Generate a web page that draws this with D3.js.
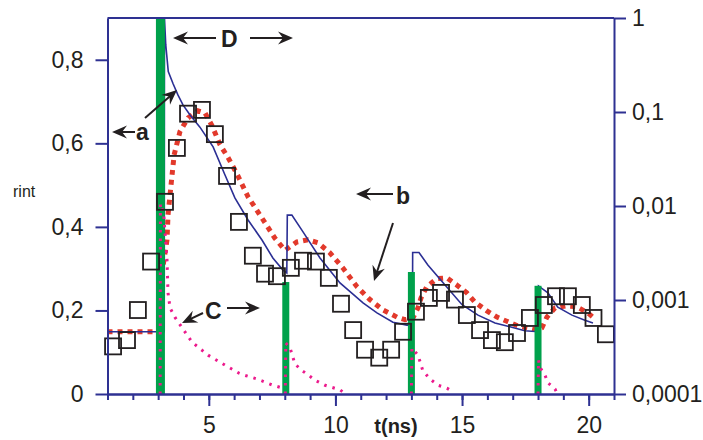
<!DOCTYPE html>
<html>
<head>
<meta charset="utf-8">
<script src="https://cdn.jsdelivr.net/npm/d3@7"></script>
<style>
body { margin: 0; background: #fff; }
svg text { font-family: "Liberation Sans", Arial, Helvetica, sans-serif; fill: #231f20; }
</style>
</head>
<body>
<div id="chart"></div>
<script>
// measured points (t in ns)
var sqX = [1.22, 1.77, 2.20, 2.72, 3.27, 3.74, 4.18, 4.73, 5.24, 5.72, 6.19, 6.74, 7.22, 7.69, 8.24, 8.72, 9.23, 9.74, 10.22, 10.70,
           11.17, 11.73, 12.20, 12.67, 13.18, 13.69, 14.17, 14.72, 15.19, 15.71, 16.18, 16.69, 17.17, 17.68, 18.23, 18.71, 19.18, 19.73, 20.19, 20.68];
var sqY = [0.114, 0.129, 0.201, 0.317, 0.460, 0.589, 0.671, 0.680, 0.622, 0.522, 0.412, 0.331, 0.288, 0.282, 0.302, 0.319, 0.317, 0.278, 0.216, 0.153,
           0.106, 0.087, 0.106, 0.149, 0.197, 0.230, 0.242, 0.226, 0.189, 0.153, 0.129, 0.124, 0.146, 0.182, 0.213, 0.234, 0.234, 0.213, 0.182, 0.143];

// model curve b (red dotted), left axis
var redX = [1.0, 3.07, 3.12, 3.23, 3.35, 3.39, 3.51, 3.63, 3.86, 4.18, 4.57, 4.85, 5.13, 5.44, 5.76, 6.11, 6.55, 7.10, 7.61, 8.01,
            8.48, 8.91, 9.31, 9.78, 10.29, 10.85, 11.36, 11.88, 12.43, 12.75, 13.06, 13.26, 13.38, 13.61, 14.0, 14.40, 14.79, 15.19,
            15.51, 15.98, 16.38, 16.77, 17.21, 17.60, 17.99, 18.15, 18.35, 18.67, 19.10, 19.53, 19.97, 20.17];
var redY = [0.149, 0.149, 0.278, 0.321, 0.369, 0.429, 0.501, 0.572, 0.628, 0.661, 0.678, 0.673, 0.642, 0.597, 0.566, 0.527, 0.472, 0.421, 0.373, 0.344,
            0.364, 0.369, 0.362, 0.338, 0.302, 0.257, 0.226, 0.201, 0.184, 0.178, 0.182, 0.206, 0.230, 0.257, 0.276, 0.278, 0.261, 0.242,
            0.220, 0.199, 0.184, 0.174, 0.163, 0.158, 0.153, 0.158, 0.184, 0.206, 0.211, 0.209, 0.194, 0.184];

// curve D (blue), right log axis
var blueX = [1.0, 3.24, 3.25, 3.3, 3.4, 3.59, 3.78, 3.98, 4.26, 4.65, 5.17, 5.64, 6.03, 6.55, 7.10, 7.53, 7.93, 8.08, 8.10, 8.28,
             8.72, 9.39, 10.18, 11.09, 11.64, 12.27, 12.82, 13.04, 13.05, 13.30, 13.65, 14.32, 15.0, 15.63, 16.30, 16.89, 17.48, 18.0,
             18.02, 18.39, 18.78, 19.34, 19.85, 20.17];
var blueY = [4.6e-4, 4.6e-4, 1, 0.52, 0.27, 0.2, 0.152, 0.119, 0.093, 0.069, 0.0425, 0.0214, 0.0122, 0.0071, 0.00435, 0.0028, 0.00208, 0.00194, 0.0080, 0.0080,
             0.0053, 0.0028, 0.00152, 0.00093, 0.00073, 0.00058, 0.00054, 0.00054, 0.0032, 0.0032, 0.00236, 0.00145, 0.00089, 0.00069, 0.00057, 0.00052, 0.00047, 0.00046,
             0.00141, 0.00119, 0.00084, 0.00069, 0.00061, 0.00057];

// curve C (pink dotted), null = gap
var pinkX = [3.08, 3.09, 3.22, 3.35, 3.39, 3.47, 3.66, 3.86, 4.34, 4.97, 5.64, 6.19, 6.35, 6.90, 7.53, 7.93, null,
             8.02, 8.04, 8.21, 8.40, 8.68, 8.92, 9.19, 9.59, 10.18, 10.35, null,
             13.0, 13.02, 13.26, 13.45, 13.73, 14.05, 14.40, 14.68, null,
             18.0, 18.02, 18.07, 18.27, 18.39, 18.67, 18.75];
var pinkY = [0, 0.456, 0.429, 0.321, 0.242, 0.206, 0.184, 0.166, 0.124, 0.093, 0.069, 0.050, 0.046, 0.036, 0.021, 0.014, null,
             0, 0.122, 0.110, 0.072, 0.056, 0.046, 0.033, 0.021, 0.010, 0.002, null,
             0, 0.110, 0.093, 0.056, 0.036, 0.021, 0.014, 0.004, null,
             0, 0.081, 0.064, 0.046, 0.027, 0.012, 0.002];

// excitation pulses (a)
var pulseX = [3.09, 8.04, 13.0, 18.0];
var pulseH = [0.9, 0.268, 0.292, 0.259];

var xTicks = [5, 10, 15, 20];
var yLeftTicks = [0, 0.2, 0.4, 0.6, 0.8];
var yLeftLabels = ["0", "0,2", "0,4", "0,6", "0,8"];
var yRightTicks = [1e-4, 1e-3, 1e-2, 1e-1, 1];
var yRightLabels = ["0,0001", "0,001", "0,01", "0,1", "1"];

var w = 703, h = 440;
var axisColor = "#2e3192";

var svg = d3.select("#chart").append("svg")
            .attr("width", w)
            .attr("height", h);

var x = d3.scaleLinear().domain([1, 21]).range([107.5, 614]);
var yL = d3.scaleLinear().domain([0, 0.9]).range([394, 18]);
var yR = d3.scaleLog().domain([1e-4, 1]).range([394, 18]);

var zip = function(a, b) { return a.map(function(v, i) { return [v, b[i]]; }); };

// red model line
svg.append("path")
   .datum(zip(redX, redY))
   .attr("fill", "none")
   .attr("stroke", "#e2392b")
   .attr("stroke-width", 5)
   .attr("stroke-dasharray", "5,5")
   .attr("d", d3.line().x(function(d) { return x(d[0]); }).y(function(d) { return yL(d[1]); }));

// blue line
svg.append("path")
   .datum(zip(blueX, blueY))
   .attr("fill", "none")
   .attr("stroke", "#2b2f94")
   .attr("stroke-width", 1.6)
   .attr("d", d3.line().x(function(d) { return x(d[0]); }).y(function(d) { return yR(d[1]); }));

// green pulses
svg.selectAll("rect.pulse")
   .data(zip(pulseX, pulseH))
   .enter()
   .append("rect")
   .attr("class", "pulse")
   .attr("x", function(d, i) { return x(d[0]) - (i == 0 ? 4.5 : 3.5); })
   .attr("width", function(d, i) { return i == 0 ? 9 : 7; })
   .attr("y", function(d) { return yL(d[1]); })
   .attr("height", function(d) { return yL(0) - yL(d[1]); })
   .attr("fill", "#00a14b");

// pink dotted
svg.append("path")
   .datum(zip(pinkX, pinkY))
   .attr("fill", "none")
   .attr("stroke", "#ec1a8c")
   .attr("stroke-width", 3)
   .attr("stroke-dasharray", "2.5,6")
   .attr("d", d3.line()
                .defined(function(d) { return d[0] != null; })
                .x(function(d) { return x(d[0]); })
                .y(function(d) { return yL(d[1]); }));

// squares
svg.selectAll("rect.sq")
   .data(zip(sqX, sqY))
   .enter()
   .append("rect")
   .attr("class", "sq")
   .attr("x", function(d) { return x(d[0]) - 8; })
   .attr("y", function(d) { return yL(d[1]) - 8; })
   .attr("width", 16)
   .attr("height", 16)
   .attr("fill", "none")
   .attr("stroke", "#231f20")
   .attr("stroke-width", 1.8);

// axes
var styleAxis = function(g) {
  g.select(".domain").attr("stroke", axisColor).attr("stroke-width", 2);
  g.selectAll(".tick line").attr("stroke", axisColor).attr("stroke-width", 2);
  g.selectAll(".tick text").attr("font-size", 23).attr("fill", "#231f20")
   .attr("font-family", "'Liberation Sans', Arial, sans-serif");
};

svg.append("g")
   .attr("transform", "translate(0,394)")
   .call(d3.axisBottom(x).tickValues(d3.range(1, 22)).tickSize(6).tickSizeOuter(0).tickFormat(""))
   .call(styleAxis);

svg.append("g")
   .attr("transform", "translate(0,394)")
   .call(d3.axisBottom(x).tickValues(xTicks).tickSize(12).tickSizeOuter(0).tickPadding(11))
   .call(styleAxis);

svg.append("g")
   .attr("transform", "translate(" + x(1) + ",0)")
   .call(d3.axisLeft(yL).tickValues(yLeftTicks).tickSize(12).tickSizeOuter(0).tickPadding(12)
           .tickFormat(function(d, i) { return yLeftLabels[i]; }))
   .call(styleAxis);

svg.append("g")
   .attr("transform", "translate(" + x(21) + ",0)")
   .call(d3.axisRight(yR).tickValues(yRightTicks).tickSize(12).tickSizeOuter(0).tickPadding(6)
           .tickFormat(function(d, i) { return yRightLabels[i]; }))
   .call(styleAxis);

svg.append("line")
   .attr("x1", x(1)).attr("x2", x(21))
   .attr("y1", yL(0.9)).attr("y2", yL(0.9))
   .attr("stroke", axisColor).attr("stroke-width", 2);

// axis titles
svg.append("text").attr("x", 396).attr("y", 433).attr("text-anchor", "middle")
   .attr("font-size", 20).attr("font-weight", "bold").text("t(ns)");
svg.append("text").attr("x", 13).attr("y", 197).attr("font-size", 16).text("rint");

// annotations
var ann = svg.append("g");
function arrow(x1, y1, x2, y2) {
  var a = Math.atan2(y2 - y1, x2 - x1);
  ann.append("line")
     .attr("x1", x1).attr("y1", y1)
     .attr("x2", x2 - 9 * Math.cos(a)).attr("y2", y2 - 9 * Math.sin(a))
     .attr("stroke", "#231f20").attr("stroke-width", 2);
  ann.append("path")
     .attr("d", "M0,0 L-15,-6.5 L-10,0 L-15,6.5 Z")
     .attr("fill", "#231f20")
     .attr("transform", "translate(" + x2 + "," + y2 + ") rotate(" + (a * 180 / Math.PI) + ")");
}
function label(t, lx, ly) {
  ann.append("text").attr("x", lx).attr("y", ly)
     .attr("font-size", 23).attr("font-weight", "bold").text(t);
}

label("D", 221, 47);
arrow(216, 38, 173, 38);
arrow(250, 38, 293, 38);

label("a", 136, 140);
arrow(135, 132, 112, 132);
arrow(145, 118, 177, 90);

label("b", 396, 204);
arrow(393, 194, 356, 194);
arrow(393, 223, 374, 281);

label("C", 205, 319);
arrow(203, 313, 182, 323);
arrow(227, 308, 260, 308);
</script>
</body>
</html>
